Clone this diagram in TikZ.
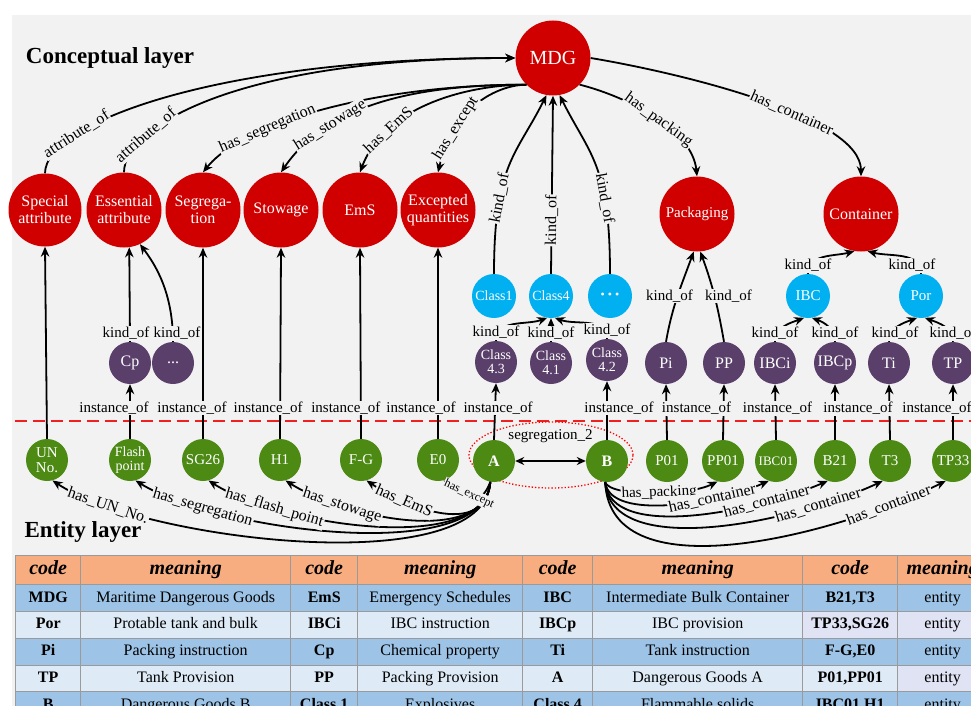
\documentclass[tikz,border=0pt]{standalone}
\usepackage{fontspec}
\setmainfont{Liberation Serif}
\usetikzlibrary{arrows.meta,matrix}

\definecolor{bgray}{HTML}{F2F2F2}
\definecolor{cred}{HTML}{D00000}
\definecolor{ccyan}{HTML}{00B0F0}
\definecolor{cpurple}{HTML}{5A3F6B}
\definecolor{cgreen}{HTML}{4C8A14}
\definecolor{hdr}{HTML}{F8AD80}
\definecolor{rowdark}{HTML}{9DC3E6}
\definecolor{rowlight}{HTML}{DEEBF7}
\definecolor{rowlav}{HTML}{DFE3F3}
\definecolor{tabline}{HTML}{9A9A9A}
\definecolor{dline}{HTML}{F02020}

\newcommand{\fsz}[2]{\fontsize{#1}{#2}\selectfont}

\tikzset{
  concept/.style={circle, fill=cred, text=white, minimum size=75pt, inner sep=0pt, align=center, font=\fsz{16}{17}},
  subconcept/.style={circle, fill=ccyan, text=white, minimum size=44pt, inner sep=0pt, align=center, font=\fsz{15}{15}},
  kindnode/.style={circle, fill=cpurple, text=white, minimum size=42pt, inner sep=0pt, align=center, font=\fsz{16}{16}},
  entity/.style={circle, fill=cgreen, text=white, minimum size=42pt, inner sep=0pt, align=center, font=\fsz{15}{15}},
  rel/.style={line width=1.8pt, -{Stealth[length=10pt,width=8.5pt]}},
  lbl/.style={fill=bgray, inner sep=1pt, font=\fsz{15}{15}},
  slbl/.style={lbl, sloped, font=\fsz{16}{16}},
  layer/.style={font=\fsz{23}{25}\bfseries},
}

\begin{document}
\begin{tikzpicture}[x=1pt,y=1pt]
\useasboundingbox (0,0) rectangle (971,-706);
\clip (0,0) rectangle (971,-706);
\fill[white] (0,0) rectangle (971,-706);
\fill[bgray] (12,-15) rectangle (971,-706);

\node[layer] (cl) at (110,-58) {Conceptual layer};
\node[layer] (el) at (83,-532) {Entity layer};

\draw[dline, dash pattern=on 12pt off 6pt, line width=1.8pt] (15,-421) -- (971,-421);
\draw[red, dotted, line width=1.3pt] (551,-455) ellipse [x radius=82, y radius=33];

\node[concept, font=\fsz{20}{20}] (mdg) at (553,-58) {MDG};
\node[concept, minimum size=73pt] (sa) at (45,-210) {Special\\attribute};
\node[concept] (ea) at (124,-210) {Essential\\attribute};
\node[concept] (seg) at (203,-210) {Segrega-\\tion};
\node[concept] (sto) at (281,-210) {Stowage};
\node[concept] (ems) at (360,-210) {EmS};
\node[concept] (exq) at (438,-210) {Excepted\\quantities};
\node[concept, font=\fsz{15}{15}] (pack) at (697,-214) {Packaging};
\node[concept] (cont) at (861,-214) {Container};

\node[subconcept, font=\fsz{14}{14}] (c1) at (494,-296) {Class1};
\node[subconcept, font=\fsz{14}{14}] (c4) at (551,-296) {Class4};
\node[subconcept, font=\fsz{12}{12}] (cd) at (610,-296) {\textbullet\ \textbullet\ \textbullet};
\node[subconcept] (ibc) at (808,-296) {IBC};
\node[subconcept] (por) at (921,-296) {Por};

\node[kindnode] (cp) at (130,-363) {Cp};
\node[kindnode] (pd) at (173,-363) {...};
\node[kindnode, font=\fsz{14}{14}] (c43) at (496,-362) {Class\\4.3};
\node[kindnode, font=\fsz{14}{14}] (c41) at (551,-363) {Class\\4.1};
\node[kindnode, font=\fsz{14}{14}] (c42) at (607,-360) {Class\\4.2};
\node[kindnode] (pi) at (666,-363) {Pi};
\node[kindnode] (pp) at (724,-363) {PP};
\node[kindnode] (ibci) at (775,-363) {IBCi};
\node[kindnode] (ibcp) at (835,-363) {IBCp};
\node[kindnode] (ti) at (889,-363) {Ti};
\node[kindnode] (tp) at (953,-363) {TP};

\node[entity] (un) at (47,-460) {UN\\No.};
\node[entity, font=\fsz{14}{14}] (fp) at (130,-460) {Flash\\point};
\node[entity] (sg) at (203,-460) {SG26};
\node[entity] (h1) at (280,-460) {H1};
\node[entity] (fg) at (361,-460) {F-G};
\node[entity] (e0) at (438,-460) {E0};
\node[entity, font=\fsz{16}{16}\bfseries] (a) at (494,-461) {A};
\node[entity, font=\fsz{16}{16}\bfseries] (b) at (607,-461) {B};
\node[entity] (p01) at (667,-461) {P01};
\node[entity] (pp01) at (723,-461) {PP01};
\node[entity, font=\fsz{13}{13}] (ibc01) at (776,-461) {IBC01};
\node[entity] (b21) at (835,-461) {B21};
\node[entity] (t3) at (890,-461) {T3};
\node[entity] (tp33) at (953,-461) {TP33};

\draw[rel] (sa.north) .. controls +(0,50) and +(-300,0) .. node[slbl, pos=0.25] {attribute\_of} (mdg.west);
\draw[rel] (ea.north) .. controls +(0,45) and +(-280,0) .. node[slbl, pos=0.25] {attribute\_of} (mdg.west);
\draw[rel] (mdg.225) .. controls +(-150,0) and +(40,50) .. node[slbl, pos=0.68] {has\_segregation} (seg.north);
\draw[rel] (mdg.225) .. controls +(-100,0) and +(49,72) .. node[slbl, pos=0.73] {has\_stowage} (sto.north);
\draw[rel] (mdg.225) .. controls +(-57,0) and +(25,67) .. node[slbl, pos=0.75] {has\_EmS} (ems.north);
\draw[rel] (mdg.225) .. controls +(-22,0) and +(17,72) .. node[slbl, pos=0.75] {has\_except} (exq.north);
\draw[rel] (mdg.-45) .. controls +(40,-10) and +(-5,50) .. node[slbl, pos=0.55] {has\_packing} (pack.north);
\draw[rel] (mdg.east) .. controls +(90,-15) and +(0,60) .. node[slbl, pos=0.6] {has\_container} (cont.north);

\draw[rel] (c1.north) .. controls +(0,110) and +(-30,-60) .. node[slbl, pos=0.3] {kind\_of} (mdg.-100);
\draw[rel] (c4.north) -- node[slbl, pos=0.3] {kind\_of} (mdg.south);
\draw[rel] (cd.north) .. controls +(0,110) and +(30,-60) .. node[slbl, pos=0.3] {kind\_of} (mdg.-80);

\draw[rel] (cp.north) -- node[lbl, at start, above, xshift=-4pt] {kind\_of} (ea.-82);
\draw[rel] (pd.north) .. controls +(0,50) and +(15,-20) .. node[lbl, at start, above, xshift=4pt] {kind\_of} (ea.-65);
\draw[rel] (c43.north) to[out=90, in=200] node[lbl, at start, above] {kind\_of} (c4.-100);
\draw[rel] (c41.north) -- node[lbl, at start, above] {kind\_of} (c4.south);
\draw[rel] (c42.north) to[out=90, in=-20] node[lbl, at start, above] {kind\_of} (c4.-80);
\draw[rel] (pi.north) to[out=80, in=-110] node[lbl, pos=0.5, xshift=-8pt] {kind\_of} (pack.-95);
\draw[rel] (pp.north) to[out=100, in=-70] node[lbl, pos=0.5, xshift=14pt] {kind\_of} (pack.-85);
\draw[rel] (ibc.north) to[out=90, in=195] node[lbl, at start, above] {kind\_of} (cont.-100);
\draw[rel] (por.north) to[out=90, in=-15] node[lbl, at start, above, xshift=-9pt] {kind\_of} (cont.-80);
\draw[rel] (ibci.north) to[out=90, in=200] node[lbl, at start, above] {kind\_of} (ibc.-100);
\draw[rel] (ibcp.north) to[out=90, in=-20] node[lbl, at start, above] {kind\_of} (ibc.-80);
\draw[rel] (ti.north) to[out=90, in=200] node[lbl, at start, above, xshift=6pt] {kind\_of} (por.-100);
\draw[rel] (tp.north) to[out=90, in=-20] node[lbl, at start, above] {kind\_of} (por.-80);

\draw[rel] (un.north) -- (sa.south);
\draw[rel] (p01.north) -- (pi.south);
\draw[rel] (t3.north) -- (ti.south);
\draw[rel] (fp.north) -- node[lbl, pos=0.56, xshift=-16pt] {instance\_of} (cp.south);
\draw[rel] (sg.north) -- node[lbl, pos=0.16, xshift=-11pt] {instance\_of} (seg.south);
\draw[rel] (h1.north) -- node[lbl, pos=0.16, xshift=-12pt] {instance\_of} (sto.south);
\draw[rel] (fg.north) -- node[lbl, pos=0.16, xshift=-15pt] {instance\_of} (ems.south);
\draw[rel] (e0.north) -- node[lbl, pos=0.16, xshift=-17pt] {instance\_of} (exq.south);
\draw[rel] (a.north) -- node[lbl, pos=0.56, xshift=3pt] {instance\_of} (c43.south);
\draw[rel] (b.north) -- node[lbl, pos=0.54, xshift=12pt] {instance\_of} (c42.south);
\draw[rel] (pp01.north) -- node[lbl, pos=0.56, xshift=-27pt] {instance\_of} (pp.south);
\draw[rel] (ibc01.north) -- node[lbl, pos=0.56, xshift=2pt] {instance\_of} (ibci.south);
\draw[rel] (b21.north) -- node[lbl, pos=0.56, xshift=23pt] {instance\_of} (ibcp.south);
\draw[rel] (tp33.north) -- node[lbl, pos=0.56, xshift=-16pt] {instance\_of} (tp.south);

\draw[line width=1.6pt, {Stealth[length=9pt,width=8pt]}-{Stealth[length=9pt,width=8pt]}] (a) -- node[above=14pt, font=\fsz{15}{15}] {segregation\_2} (b);

\draw[rel] (a.-100) .. controls +(-5,-100) and +(90,-60) .. node[slbl, pos=0.85] {has\_UN\_No.} (un.-75);
\draw[rel] (a.-100) .. controls +(-5,-85) and +(80,-50) .. node[slbl, pos=0.8] {has\_segregation} (fp.-75);
\draw[rel] (a.-100) .. controls +(-5,-75) and +(70,-45) .. node[slbl, pos=0.77] {has\_flash\_point} (sg.-75);
\draw[rel] (a.-100) .. controls +(-5,-65) and +(60,-38) .. node[slbl, pos=0.75] {has\_stowage} (h1.-75);
\draw[rel] (a.-100) .. controls +(-5,-55) and +(45,-30) .. node[slbl, pos=0.75] {has\_EmS} (fg.-75);
\draw[rel] (a.-100) .. controls +(-10,-25) and +(30,-15) .. node[slbl, pos=0.62, font=\fsz{12}{12}] {has\_except} (e0.-75);

\draw[rel] (b.-95) .. controls +(5,-15) and +(-30,-15) .. node[slbl, pos=0.55, font=\fsz{15}{15}] {has\_packing} (pp01.-105);
\draw[rel] (b.-95) .. controls +(5,-40) and +(-50,-22) .. node[slbl, pos=0.7] {has\_container} (ibc01.-110);
\draw[rel] (b.-95) .. controls +(5,-60) and +(-70,-30) .. node[slbl, pos=0.76] {has\_container} (b21.-110);
\draw[rel] (b.-95) .. controls +(5,-80) and +(-85,-40) .. node[slbl, pos=0.79] {has\_container} (t3.-110);
\draw[rel] (b.-95) .. controls +(5,-115) and +(-100,-50) .. node[slbl, pos=0.84] {has\_container} (tp33.-110);

\matrix (tab) [matrix of nodes, anchor=north west, inner sep=0pt, column sep=-1pt, row sep=-1pt,
  nodes={draw=tabline, line width=1pt, inner sep=0pt, anchor=center, minimum height=26.8pt, text height=11.5pt, text depth=3.5pt, font=\fsz{16}{16}},
  column 1/.style={nodes={minimum width=65pt, font=\fsz{16}{16}\bfseries}},
  column 2/.style={nodes={minimum width=210pt}},
  column 3/.style={nodes={minimum width=67pt, font=\fsz{16}{16}\bfseries}},
  column 4/.style={nodes={minimum width=165pt}},
  column 5/.style={nodes={minimum width=70pt, font=\fsz{16}{16}\bfseries}},
  column 6/.style={nodes={minimum width=210pt}},
  column 7/.style={nodes={minimum width=95pt, font=\fsz{16}{16}\bfseries}},
  column 8/.style={nodes={minimum width=90pt}},
  row 1/.style={nodes={fill=hdr, minimum height=29pt, text height=14pt, text depth=4.5pt, font=\fsz{20}{20}\bfseries\itshape}},
  row 2/.style={nodes={fill=rowdark}},
  row 3/.style={nodes={fill=rowlight}},
  row 4/.style={nodes={fill=rowdark}},
  row 5/.style={nodes={fill=rowlight}},
  row 6/.style={nodes={fill=rowdark}},
  row 3 column 7/.style={nodes={fill=rowlav}},
  row 3 column 8/.style={nodes={fill=rowlav}},
  row 5 column 8/.style={nodes={fill=rowlav}}] at (15,-555) {
code & meaning & code & meaning & code & meaning & code & meaning \\
MDG & Maritime Dangerous Goods & EmS & Emergency Schedules & IBC & Intermediate Bulk Container & B21,T3 & entity \\
Por & Protable tank and bulk & IBCi & IBC instruction & IBCp & IBC provision & TP33,SG26 & entity \\
Pi & Packing instruction & Cp & Chemical property & Ti & Tank instruction & F-G,E0 & entity \\
TP & Tank Provision & PP & Packing Provision & A & Dangerous Goods A & P01,PP01 & entity \\
B & Dangerous Goods B & Class 1 & Explosives & Class 4 & Flammable solids & IBC01,H1 & entity \\
};
\end{tikzpicture}
\end{document}
